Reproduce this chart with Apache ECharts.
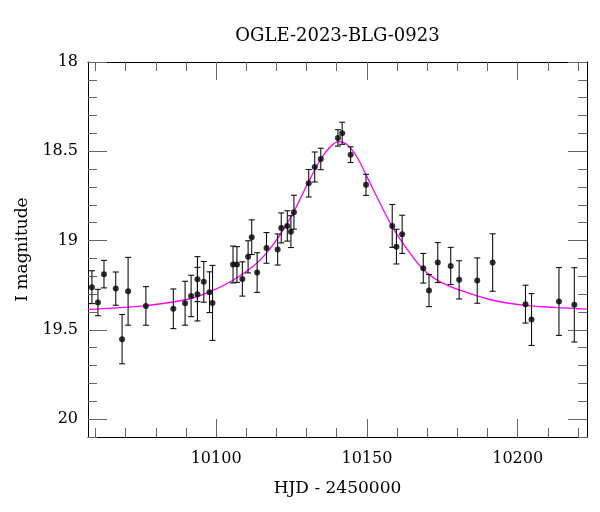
<!DOCTYPE html>
<html>
<head>
<meta charset="utf-8">
<script src="https://cdn.jsdelivr.net/npm/echarts@6/dist/echarts.min.js"></script>
<style>
html,body{margin:0;padding:0;background:#fff;}
#chart{width:600px;height:512px;}
</style>
</head>
<body>
<div id="chart"></div>
<script>
// ---- data ----
const hjd = [10058.8, 10060.8, 10062.8, 10066.7, 10068.8, 10070.8, 10076.7, 10085.8, 10089.7, 10091.7,
  10093.8, 10093.8, 10095.9, 10097.8, 10098.8, 10105.6, 10106.9, 10108.7, 10110.6, 10111.8,
  10113.6, 10116.7, 10120.4, 10121.6, 10123.6, 10124.8, 10125.8, 10130.7, 10132.7, 10134.7,
  10140.4, 10141.8, 10144.6, 10149.7, 10158.4, 10159.8, 10161.7, 10168.7, 10170.6, 10173.5,
  10177.8, 10180.6, 10186.6, 10191.7, 10202.6, 10204.6, 10213.7, 10218.8];
const mag = [19.261, 19.347, 19.188, 19.269, 19.552, 19.284, 19.366, 19.382, 19.351, 19.310,
  19.216, 19.300, 19.231, 19.289, 19.349, 19.134, 19.134, 19.215, 19.091, 18.981,
  19.179, 19.041, 19.050, 18.929, 18.918, 18.950, 18.841, 18.679, 18.588, 18.543,
  18.425, 18.399, 18.519, 18.688, 18.918, 19.034, 18.965, 19.155, 19.280, 19.123,
  19.142, 19.220, 19.224, 19.123, 19.356, 19.442, 19.341, 19.360];
const magErr = [0.092, 0.074, 0.077, 0.093, 0.138, 0.190, 0.108, 0.111, 0.123, 0.116,
  0.126, 0.150, 0.114, 0.114, 0.210, 0.103, 0.100, 0.096, 0.090, 0.097,
  0.111, 0.086, 0.087, 0.084, 0.085, 0.089, 0.095, 0.077, 0.084, 0.060,
  0.046, 0.062, 0.044, 0.059, 0.120, 0.097, 0.107, 0.083, 0.090, 0.112,
  0.104, 0.107, 0.127, 0.161, 0.106, 0.145, 0.190, 0.208];
// model curve, sampled from the magenta line in the picture
const modelT = [10057.5, 10066.0, 10076.9, 10090.2, 10097.9, 10105.6, 10112.3, 10116.7, 10121.3, 10125.7,
  10130.1, 10134.5, 10137.8, 10140.6, 10143.4, 10146.7, 10150.0, 10154.4, 10158.5, 10163.2,
  10168.7, 10174.3, 10180.9, 10190.8, 10201.9, 10212.9, 10223.0];
const modelMag = [19.385, 19.378, 19.364, 19.330, 19.287, 19.222, 19.144, 19.070, 18.965, 18.840,
  18.690, 18.550, 18.476, 18.446, 18.462, 18.532, 18.642, 18.792, 18.925, 19.045,
  19.162, 19.231, 19.278, 19.330, 19.362, 19.375, 19.384];
// ticks
const xMajorTicks = [10100, 10150, 10200];
const xMinorTicks = [10060, 10070, 10080, 10090, 10100, 10110, 10120, 10130, 10140, 10150, 10160, 10170, 10180, 10190, 10200, 10210, 10220];
const yMajorTicks = [18, 18.5, 19, 19.5, 20];
const yMinorTicks = [18.1, 18.2, 18.3, 18.4, 18.6, 18.7, 18.8, 18.9, 19.1, 19.2, 19.3, 19.4, 19.6, 19.7, 19.8, 19.9, 20.1];
const titleText = 'OGLE-2023-BLG-0923';
const xName = 'HJD - 2450000';
const yName = 'I magnitude';

const FONT = 'DejaVu Serif';
const X_MIN = 10057.5, X_MAX = 10223, Y_MIN = 18, Y_MAX = 20.1;
const tickColor = '#666';

function xAxisDef(pos, major) {
  return {
    type: 'value', position: pos, min: X_MIN, max: X_MAX,
    axisLine: { show: major, onZero: false, lineStyle: { color: '#000', width: 1 } },
    axisTick: { show: true, inside: true, length: major ? 18 : 9,
      customValues: major ? xMajorTicks : xMinorTicks,
      lineStyle: { color: tickColor, width: 1 } },
    axisLabel: { show: major && pos === 'bottom', customValues: xMajorTicks,
      formatter: function (v) { return String(v); },
      fontFamily: FONT, fontSize: 16, color: '#000', margin: 14 },
    splitLine: { show: false },
    name: (major && pos === 'bottom') ? xName : '',
    nameLocation: 'middle', nameGap: 43,
    nameTextStyle: { fontFamily: FONT, fontSize: 17, color: '#000' }
  };
}
function yAxisDef(pos, major) {
  return {
    type: 'value', position: pos, inverse: true, min: Y_MIN, max: Y_MAX,
    axisLine: { show: major, onZero: false, lineStyle: { color: '#000', width: 1 } },
    axisTick: { show: true, inside: true, length: major ? 19 : 9,
      customValues: major ? yMajorTicks : yMinorTicks,
      lineStyle: { color: tickColor, width: 1 } },
    axisLabel: { show: major && pos === 'left', customValues: yMajorTicks,
      formatter: function (v) { return String(v); },
      fontFamily: FONT, fontSize: 16, color: '#000', margin: 10 },
    splitLine: { show: false },
    name: (major && pos === 'left') ? yName : '',
    nameLocation: 'middle', nameGap: 55, nameRotate: 90,
    nameTextStyle: { fontFamily: FONT, fontSize: 17, color: '#000' }
  };
}

const errData = hjd.map((t, i) => [t, mag[i] - magErr[i], mag[i] + magErr[i]]);
const ptData = hjd.map((t, i) => [t, mag[i]]);
const modelData = modelT.map((t, i) => [t, modelMag[i]]);

const chart = echarts.init(document.getElementById('chart'), null, { renderer: 'canvas' });
chart.setOption({
  animation: false,
  backgroundColor: '#fff',
  title: {
    text: titleText, left: 332.5, top: 22, textAlign: 'center',
    textStyle: { fontFamily: FONT, fontSize: 18, fontWeight: 'normal', color: '#000' }
  },
  grid: { left: 88, right: 13, top: 62, bottom: 75, outerBoundsMode: 'none', containLabel: false },
  xAxis: [xAxisDef('bottom', true), xAxisDef('bottom', false), xAxisDef('top', true), xAxisDef('top', false)],
  yAxis: [yAxisDef('left', true), yAxisDef('left', false), yAxisDef('right', true), yAxisDef('right', false)],
  series: [
    {
      type: 'line', data: modelData, xAxisIndex: 0, yAxisIndex: 0,
      smooth: 0.35, showSymbol: false, symbol: 'none',
      lineStyle: { color: '#ff00ff', width: 1.3 }, z: 2
    },
    {
      type: 'custom', data: errData, xAxisIndex: 0, yAxisIndex: 0, z: 3,
      renderItem: function (params, api) {
        const x = api.value(0);
        const a = api.coord([x, api.value(1)]);
        const b = api.coord([x, api.value(2)]);
        const w = 3;
        const st = { stroke: '#111', lineWidth: 1.1 };
        return {
          type: 'group',
          children: [
            { type: 'line', shape: { x1: a[0], y1: a[1], x2: b[0], y2: b[1] }, style: st },
            { type: 'line', shape: { x1: a[0] - w, y1: a[1], x2: a[0] + w, y2: a[1] }, style: st },
            { type: 'line', shape: { x1: b[0] - w, y1: b[1], x2: b[0] + w, y2: b[1] }, style: st }
          ]
        };
      }
    },
    {
      type: 'scatter', data: ptData, xAxisIndex: 0, yAxisIndex: 0, z: 4,
      symbol: 'circle', symbolSize: 6, itemStyle: { color: '#000' }
    }
  ]
});
</script>
</body>
</html>
